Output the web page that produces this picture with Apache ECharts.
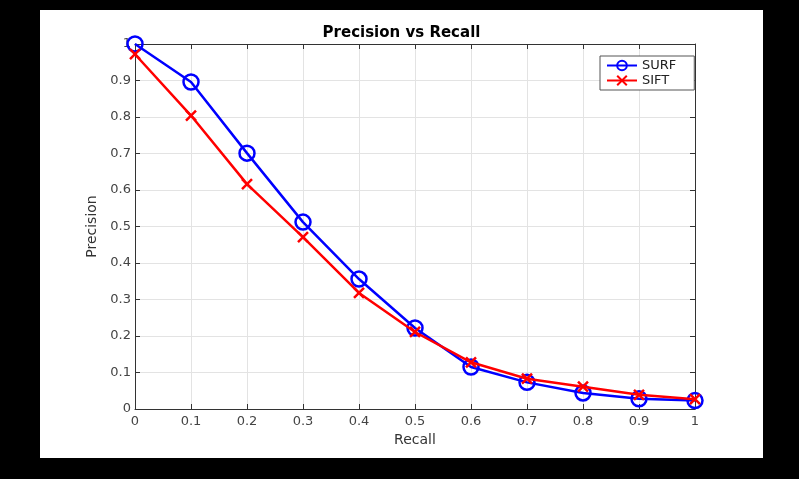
<!DOCTYPE html>
<html><head><meta charset="utf-8">
<script src="https://cdn.jsdelivr.net/npm/echarts@6/dist/echarts.min.js"></script>
<style>
html,body{margin:0;padding:0;background:#000;width:799px;height:479px;overflow:hidden;}
#c{position:absolute;left:40px;top:10px;width:723px;height:448px;background:#fff;}
</style></head>
<body><div id="c"></div>
<script>
var recall = [0, 0.1, 0.2, 0.3, 0.4, 0.5, 0.6, 0.7, 0.8, 0.9, 1];
var surf = [1.0, 0.896, 0.701, 0.512, 0.356, 0.222, 0.115, 0.073, 0.044, 0.028, 0.023];
var sift = [0.972, 0.804, 0.616, 0.471, 0.318, 0.211, 0.128, 0.083, 0.061, 0.039, 0.027];

var chart = echarts.init(document.getElementById('c'));
var font = 'DejaVu Sans';
function pairs(ys){ return recall.map(function(x,i){return [x, ys[i]];}); }
function fmt(v){ return String(Math.round(v*10)/10); }
var axisCol = '#333';
chart.setOption({
  animation:false,
  textStyle:{fontFamily:font},
  title:{text:'Precision vs Recall', left:'center', top:11, itemGap:0,
    textStyle:{fontFamily:font, fontWeight:'bold', fontSize:15, color:'#000'}},
  grid:{left:95, right:68, top:34, bottom:49},
  legend:{orient:'vertical', left:560, top:46, padding:[3,18,3,6], itemGap:2,
    itemWidth:30, itemHeight:12, borderColor:'#555', borderWidth:1, borderRadius:0,
    backgroundColor:'#fff',
    textStyle:{fontFamily:font, fontSize:13, color:'#222'},
    data:['SURF','SIFT']},
  xAxis:[{type:'value', min:0, max:1, interval:0.1,
    name:'Recall', nameLocation:'middle', nameGap:24,
    nameTextStyle:{fontFamily:font, fontSize:14, color:'#333'},
    axisLine:{onZero:false, lineStyle:{color:axisCol}},
    axisTick:{inside:true, length:5, lineStyle:{color:axisCol}},
    axisLabel:{formatter:fmt, fontFamily:font, fontSize:13, color:'#444', margin:6},
    splitLine:{show:true, lineStyle:{color:'#e3e3e3'}}},
   {type:'value', min:0, max:1, interval:0.1, position:'top',
    axisLine:{show:true, onZero:false, lineStyle:{color:axisCol}},
    axisTick:{show:true, inside:true, length:5, lineStyle:{color:axisCol}},
    axisLabel:{show:false}, splitLine:{show:false}}],
  yAxis:[{type:'value', min:0, max:1, interval:0.1,
    name:'Precision', nameLocation:'middle', nameGap:35,
    nameTextStyle:{fontFamily:font, fontSize:14, color:'#333'},
    axisLine:{show:true, onZero:false, lineStyle:{color:axisCol}},
    axisTick:{show:true, inside:true, length:5, lineStyle:{color:axisCol}},
    axisLabel:{formatter:fmt, fontFamily:font, fontSize:13, color:'#444', margin:4},
    splitLine:{show:true, lineStyle:{color:'#e3e3e3'}}},
   {type:'value', min:0, max:1, interval:0.1, position:'right',
    axisLine:{show:true, onZero:false, lineStyle:{color:axisCol}},
    axisTick:{show:true, inside:true, length:5, lineStyle:{color:axisCol}},
    axisLabel:{show:false}, splitLine:{show:false}}],
  series:[
    {name:'SURF', type:'line', data:pairs(surf), symbol:'circle', symbolSize:15,
     lineStyle:{color:'#0000ff', width:2.5},
     itemStyle:{color:'rgba(0,0,0,0)', borderColor:'#0000ff', borderWidth:2.5}, z:3},
    {name:'SIFT', type:'line', data:pairs(sift), symbol:'path://M0,0L10,10M10,0L0,10', symbolSize:10,
     lineStyle:{color:'#ff0000', width:2.5},
     itemStyle:{color:'#ff0000', borderColor:'#ff0000', borderWidth:2.5}, z:4}
  ]
});
</script></body></html>
